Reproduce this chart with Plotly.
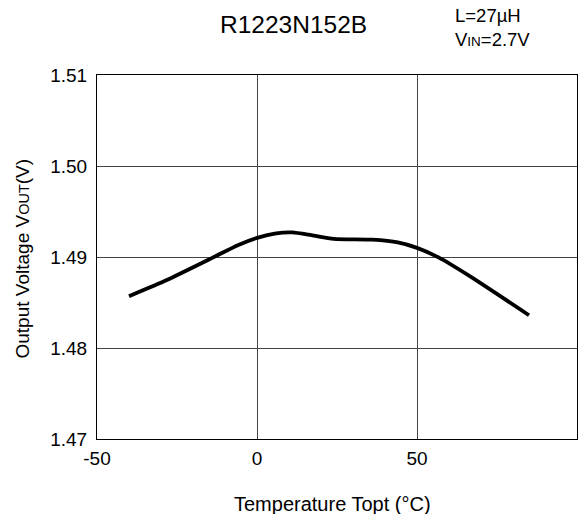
import plotly.graph_objects as go

# Output voltage vs. ambient temperature
temperature_c = [-40, -28, -14, -6, 0, 6, 11, 17, 24, 36, 44, 50, 57, 66, 85]
vout_v = [1.4857, 1.4875, 1.4899, 1.4913, 1.4921, 1.4926, 1.4927, 1.4924,
          1.4920, 1.4919, 1.4916, 1.4910, 1.4899, 1.4880, 1.4836]

x_ticks = [-50, 0, 50, 100]
x_tick_text = ["-50", "0", "50", "100"]
y_ticks = [1.47, 1.48, 1.49, 1.50, 1.51]
y_tick_text = ["1.47", "1.48", "1.49", "1.50", "1.51"]

FONT = "Liberation Sans, Arial, Helvetica, sans-serif"

# plot area geometry (pixels) used to place the free-floating labels
W, H = 586, 514
L_M, R_M, T_M, B_M = 97, 9, 75, 75
PW, PH = W - L_M - R_M, H - T_M - B_M


def px_x(px):
    return (px - L_M) / PW


def px_y(py):
    return (H - B_M - py) / PH


fig = go.Figure()
fig.add_trace(go.Scatter(
    x=temperature_c, y=vout_v, mode="lines",
    line=dict(color="black", width=3.8, shape="spline", smoothing=0.6),
    showlegend=False, hoverinfo="skip",
))

axis_common = dict(
    showline=True, linecolor="black", linewidth=1, mirror=True,
    showgrid=True, gridcolor="#444444", gridwidth=1,
    ticks="", zeroline=False,
    tickfont=dict(family=FONT, size=19, color="black"),
)

fig.update_xaxes(range=[-50, 100], tickvals=x_ticks, ticktext=x_tick_text,
                 ticklabelstandoff=2, **axis_common)
fig.update_yaxes(range=[1.47, 1.51], tickvals=y_ticks, ticktext=y_tick_text,
                 ticklabelstandoff=5, **axis_common)

fig.update_layout(
    width=W, height=H,
    margin=dict(l=L_M, r=R_M, t=T_M, b=B_M),
    paper_bgcolor="white", plot_bgcolor="white",
    font=dict(family=FONT, color="black"),
    annotations=[
        dict(text="R1223N152B", x=px_x(293), y=px_y(24.5), xref="paper",
             yref="paper", xanchor="center", yanchor="middle",
             showarrow=False, font=dict(size=24.5, family=FONT)),
        dict(text="L=27µH<br>V<span style='font-size:13.5px'>IN</span>=2.7V",
             x=px_x(453), y=px_y(27.5), xref="paper", yref="paper",
             xanchor="left", yanchor="middle", align="left", showarrow=False,
             font=dict(size=18.5, family=FONT)),
        dict(text="Temperature Topt (°C)", x=px_x(332.5), y=px_y(503.5),
             xref="paper", yref="paper", xanchor="center", yanchor="middle",
             showarrow=False, font=dict(size=20, family=FONT)),
        dict(text="Output Voltage V<span style='font-size:14.5px'>OUT</span>(V)",
             x=px_x(22), y=px_y(258.5), xref="paper", yref="paper",
             xanchor="center", yanchor="middle", textangle=-90,
             showarrow=False, font=dict(size=19, family=FONT)),
    ],
)

fig.write_html("out.html")
